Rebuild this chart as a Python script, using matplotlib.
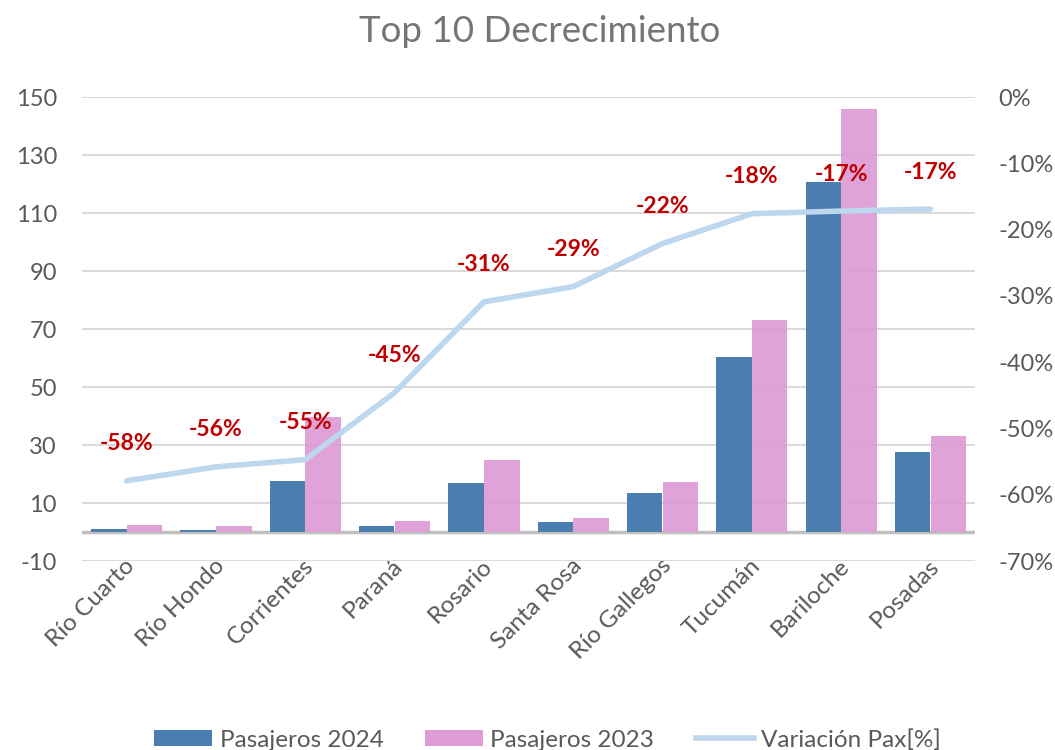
import numpy as np
import matplotlib
matplotlib.use("Agg")
import matplotlib.pyplot as plt
import matplotlib.transforms as mtransforms
from matplotlib.patches import Patch
from matplotlib.lines import Line2D

plt.rcParams['font.family'] = ['Lato', 'DejaVu Sans']
plt.rcParams['axes.unicode_minus'] = False

# data
ciudades = ['Río Cuarto', 'Río Hondo', 'Corrientes', 'Paraná', 'Rosario',
            'Santa Rosa', 'Río Gallegos', 'Tucumán', 'Bariloche', 'Posadas']
pax_2024 = [0.9, 0.6, 17.7, 2.0, 17.0, 3.4, 13.3, 60.2, 120.7, 27.5]
pax_2023 = [2.3, 1.9, 39.5, 3.9, 24.8, 4.8, 17.1, 73.1, 145.9, 33.1]
variacion = [-57.9, -55.8, -54.7, -44.6, -30.9, -28.6, -22.1, -17.6, -17.2, -16.9]
etiquetas = ['-58%', '-56%', '-55%', '-45%', '-31%', '-29%', '-22%', '-18%', '-17%', '-17%']

left_ticks = [-10, 10, 30, 50, 70, 90, 110, 130, 150]
right_ticks = [-70, -60, -50, -40, -30, -20, -10, 0]

AZUL = '#4A7EB0'
ROSA = '#DE9BD6'
LINEA = '#BDD7EE'
GRIS = '#595959'

fig = plt.figure(figsize=(10.55, 7.5), dpi=100)
ax = fig.add_axes([0.0777, 0.252, 0.8466, 0.6186])
x = np.arange(len(ciudades))
w = 0.398

ax.bar(x - 0.2, pax_2024, width=w, color=AZUL, zorder=2)
ax.bar(x + 0.2, pax_2023, width=w, color=ROSA, alpha=0.92, zorder=2)

ax.set_xlim(-0.5, len(ciudades) - 0.5)
ax.set_ylim(-10, 150)
ax.set_yticks(left_ticks)
ax.yaxis.grid(True, color='#D9D9D9', linewidth=1.4, zorder=0)
ax.set_axisbelow(True)
ax.axhline(0, color='#BFBFBF', linewidth=2.5, zorder=1)
for s in ax.spines.values():
    s.set_visible(False)
ax.tick_params(axis='both', length=0, labelsize=17, labelcolor=GRIS)
ax.tick_params(axis='y', pad=18)
ax.set_xticks(x)
ax.set_xticklabels(ciudades, rotation=45, ha='right', va='center',
                   rotation_mode='anchor', fontsize=17.5, color=GRIS)
ax.tick_params(axis='x', pad=1)
shift = mtransforms.ScaledTranslation(5 / 100, 0, fig.dpi_scale_trans)
for lbl in ax.get_xticklabels():
    lbl.set_transform(lbl.get_transform() + shift)

ax2 = ax.twinx()
ax2.set_ylim(-70, 0)
ax2.set_yticks(right_ticks)
ax2.set_yticklabels([f'{t}%' for t in right_ticks])
for s in ax2.spines.values():
    s.set_visible(False)
ax2.tick_params(axis='y', length=0, labelsize=17, labelcolor=GRIS, pad=17)
ax2.plot(x, variacion, color=LINEA, linewidth=4, solid_capstyle='round', zorder=3)
for xi, v, t in zip(x, variacion, etiquetas):
    ax2.annotate(t, (xi, v), xytext=(0, 37), textcoords='offset pixels',
                 ha='center', va='center', color='#C00000', fontsize=16.5,
                 fontweight='bold', zorder=4)

fig.suptitle('Top 10 Decrecimiento', x=0.512, y=0.98, fontsize=26.5, color='#757575')

handles = [Patch(facecolor=AZUL, label='Pasajeros 2024'),
           Patch(facecolor=ROSA, label='Pasajeros 2023'),
           Line2D([0], [0], color=LINEA, linewidth=4, label='Variación Pax[%]')]
fig.legend(handles=handles, loc='lower center', bbox_to_anchor=(0.519, -0.03), ncol=3,
           frameon=False, fontsize=17.5, labelcolor=GRIS, handlelength=2.4,
           handleheight=0.64, columnspacing=1.7, handletextpad=0.3)

fig.savefig('out.png', dpi=100)
